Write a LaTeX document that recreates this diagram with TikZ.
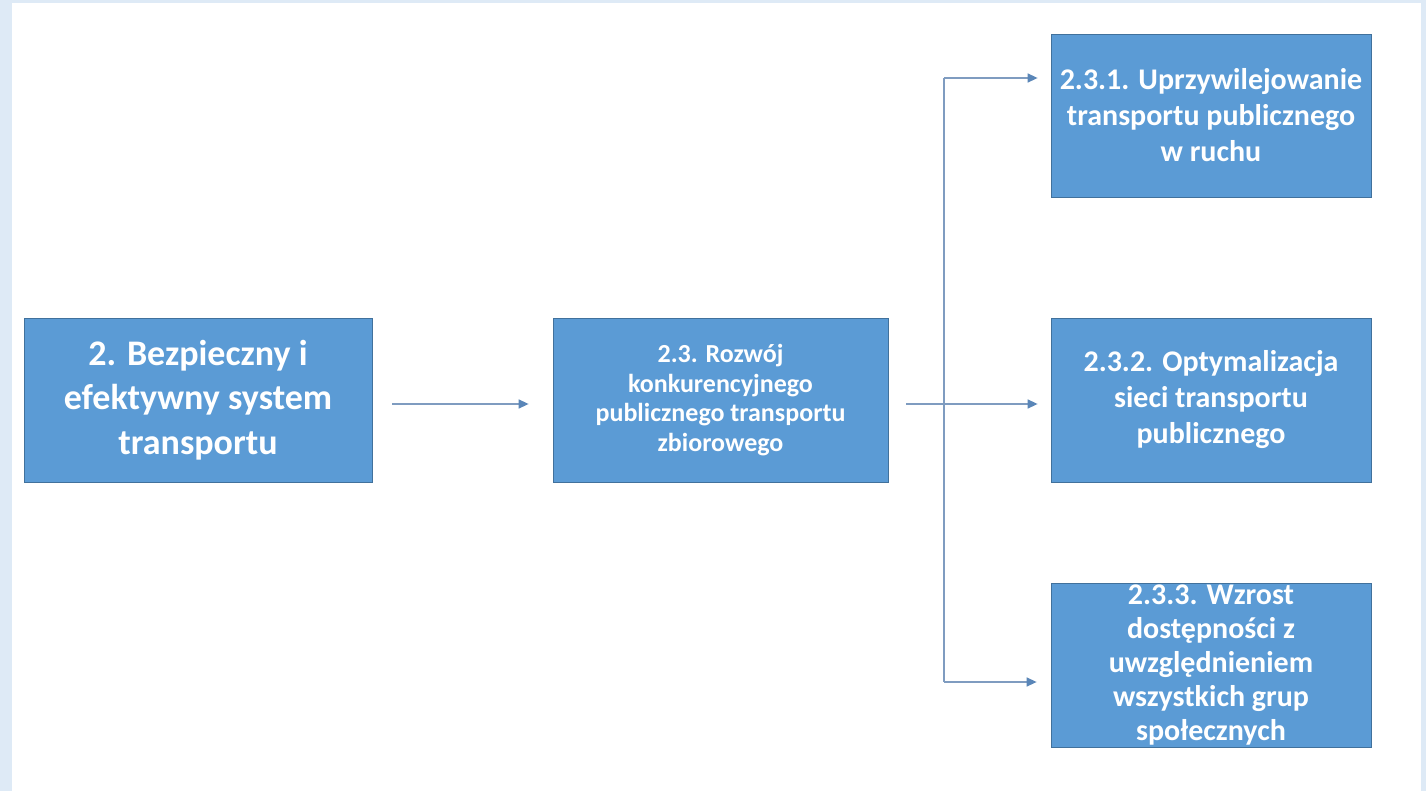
\documentclass[tikz,border=0pt]{standalone}
\usepackage{fontspec}
\setmainfont{Carlito}
\usetikzlibrary{arrows.meta}
\definecolor{boxfill}{HTML}{5B9BD5}
\definecolor{boxline}{HTML}{41719C}
\definecolor{conn}{HTML}{7F9CC0}
\definecolor{tipc}{HTML}{5A86B8}
\definecolor{frame}{HTML}{DEEAF6}
\tikzset{
  box/.style={draw=boxline, line width=0.8pt, fill=boxfill, text=white, align=center,
    inner sep=0pt, font=\bfseries},
  conn/.style={draw=conn, line width=1.4pt},
  arr/.style={conn, -{Triangle[length=10pt,width=9pt,color=tipc]}},
}
\begin{document}
\begin{tikzpicture}[x=1pt,y=-1pt]
\fill[frame] (0,0) rectangle (1426,791);
\fill[white] (12,3) rectangle (1421,791);
\useasboundingbox (0,0) rectangle (1426,791);

\node[box, minimum width=348pt, minimum height=164pt, font=\bfseries\fontsize{36}{44.5}\selectfont]
  (b1) at (198,400) {2. Bezpieczny i\\efektywny system\\transportu};
\node[box, minimum width=335pt, minimum height=164pt, font=\bfseries\fontsize{26}{29.5}\selectfont]
  (b2) at (720.5,400) {2.3. Rozwój\\konkurencyjnego\\publicznego transportu\\zbiorowego};
\node[box, minimum width=320pt, minimum height=163pt, font=\bfseries\fontsize{30}{36}\selectfont]
  (ba) at (1211,115.5) {2.3.1. Uprzywilejowanie\\transportu publicznego\\w ruchu};
\node[box, minimum width=320pt, minimum height=164pt, font=\bfseries\fontsize{30}{36}\selectfont]
  (bb) at (1211,400) {2.3.2. Optymalizacja\\sieci transportu\\publicznego};
\node[box, minimum width=320pt, minimum height=164pt, font=\bfseries\fontsize{30}{34}\selectfont]
  (bc) at (1211,665) {2.3.3. Wzrost\\dostępności z\\uwzględnieniem\\wszystkich grup\\społecznych};

\coordinate (jt) at (944,78);
\coordinate (jb) at (944,682);

\draw[arr, shorten <=20pt, shorten >=24pt] ([yshift=-4pt]b1.east) -- ([yshift=-4pt]b2.west);
\draw[arr, shorten <=18pt, shorten >=13pt] ([yshift=-4pt]b2.east) -- ([yshift=-4pt]bb.west);
\draw[conn] (jt) -- (jb);
\draw[arr, shorten >=13pt] (jt) -- (jt -| ba.west);
\draw[arr, shorten >=14pt] (jb) -- (jb -| bc.west);
\end{tikzpicture}
\end{document}
